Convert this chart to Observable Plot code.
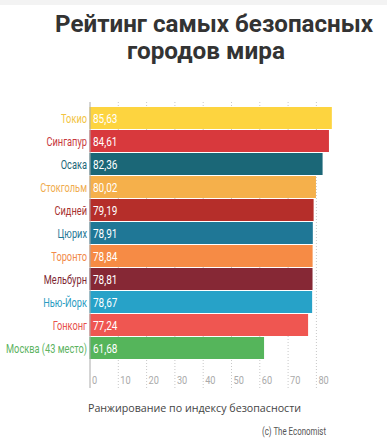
<!DOCTYPE html>
<html><head><meta charset="utf-8">
<script src="https://cdn.jsdelivr.net/npm/d3@7"></script>
<script src="https://cdn.jsdelivr.net/npm/@observablehq/plot@0.6"></script>
<style>
body{margin:0;background:#fff;width:387px;height:444px;overflow:hidden;position:relative;font-family:Roboto,sans-serif}
#band{position:absolute;left:0;top:0;width:387px;height:5px;background:#f3f3f3}
.tl{position:absolute;left:0;text-align:center;font-weight:700;font-size:24px;line-height:27px;color:#333;white-space:nowrap}
.tl span{display:inline-block;transform-origin:center center}
#t1{top:11px;width:428px}
#t2{top:38px;width:412px}
#chart{position:absolute;left:0;top:95px}
#xlabel{position:absolute;left:88px;top:400px;font-size:11.5px;color:#444;font-family:"Open Sans",sans-serif;white-space:nowrap}
#caption{position:absolute;left:262px;top:425px;font-family:Roboto,sans-serif;font-size:11px;color:#555;white-space:nowrap}
</style></head>
<body>
<div id="band"></div>
<div id="t1" class="tl"><span>Рейтинг самых безопасных</span></div>
<div id="t2" class="tl"><span>городов мира</span></div>
<div id="chart"></div>
<div id="xlabel"><span>Ранжирование по индексу безопасности</span></div>
<div id="caption"><span>(c) The Economist</span></div>
<script>
const cities = ["Токио","Сингапур","Осака","Стокгольм","Сидней","Цюрих","Торонто","Мельбурн","Нью-Йорк","Гонконг","Москва (43 место)"];
const values = [85.63,84.61,82.36,80.02,79.19,78.91,78.84,78.81,78.67,77.24,61.68];
const barColors = ["#FDD43F","#D8393D","#1B6777","#F5B04B","#B52E2A","#1F7796","#F68B45","#862835","#27A2C8","#EF5651","#55B55B"];
const labelColors = ["#F2C443","#C8393D","#1B6777","#F0AC4E","#A83230","#1F7796","#F28A4A","#7E2834","#2A9CC2","#E8504B","#5CB35F"];
const xTicks = [0,10,20,30,40,50,60,70,80];

const data = cities.map((c,i)=>({city:c, value:values[i], color:barColors[i], lc:labelColors[i]}));
const fmt = v => v.toFixed(2).replace(".", ",");

const chart = Plot.plot({
  width: 387, height: 300,
  marginLeft: 89.5, marginRight: 14.5, marginTop: 7, marginBottom: 32,
  style: {fontFamily: "Roboto, sans-serif", fontSize: "12px", background: "transparent"},
  x: {domain: [0, 100], axis: null},
  y: {domain: cities, padding: 0.05, axis: null},
  marks: [
    Plot.ruleX(xTicks.slice(1), {stroke: "#c8c8c8", strokeDasharray: "1,2"}),
    Plot.axisX(xTicks.slice(1), {tickSize: 25, stroke: "#c8c8c8", strokeDasharray: "1,2", text: null, label: null}),
    Plot.barX(data, {x: "value", y: "city", fill: "color"}),
    Plot.ruleX([0], {stroke: "#aaa"}),
    Plot.axisX([0], {tickSize: 25, stroke: "#aaa", text: null, label: null}),
    Plot.text(xTicks, {x: d => d, frameAnchor: "bottom", dy: 20, dx: 2, textAnchor: "start", fill: "#aaa", fontSize: 11.5, text: d => String(d)}),
    Plot.text(data, {x: 0, y: "city", text: d => fmt(d.value), dx: 3, textAnchor: "start", fill: "white", fontSize: 12.5}),
    Plot.text(data, {y: "city", frameAnchor: "left", text: "city", dx: -3, textAnchor: "end", fill: "lc", fontSize: 12.5})
  ]
});
document.getElementById("chart").append(chart);

const groups = chart.querySelectorAll('g[aria-label="text"]');
function squeeze(g, f) {
  if (!g) return;
  g.querySelectorAll("text").forEach(t => {
    const tr = t.getAttribute("transform") || "";
    t.setAttribute("transform", (tr + ` scale(${f},1)`).trim());
  });
}
squeeze(groups[0], 0.8);
squeeze(groups[1], 0.8);
squeeze(groups[2], 0.74);

function fitWidth(sel, target) {
  const el = document.querySelector(sel);
  el.style.display = "inline-block";
  const w = el.getBoundingClientRect().width;
  el.style.transform = `scaleX(${target / w})`;
}
document.querySelectorAll("#caption span, #xlabel span").forEach(s => s.style.transformOrigin = "left center");
fitWidth("#caption span", 64);
fitWidth("#xlabel span", 213);
fitWidth("#t1 span", 318);
fitWidth("#t2 span", 158);
</script>
</body></html>
